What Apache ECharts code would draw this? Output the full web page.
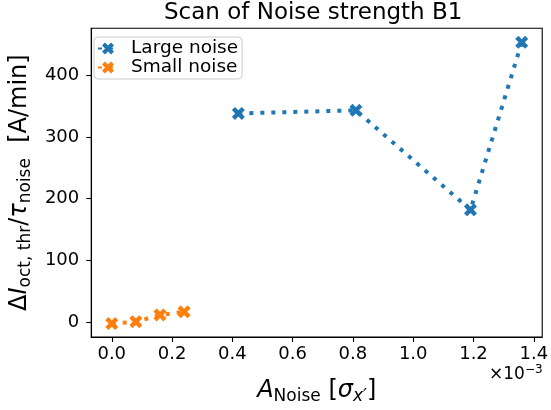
<!DOCTYPE html>
<html><head><meta charset="utf-8">
<script src="https://cdn.jsdelivr.net/npm/echarts@6/dist/echarts.min.js"></script>
<style>html,body{margin:0;padding:0;background:#fff}#c{width:551px;height:410px}</style>
</head><body><div id="c"></div>
<script>
const largeX = [0.42, 0.81, 1.19, 1.36];
const largeY = [338, 343, 182, 453];
const smallX = [0.0, 0.08, 0.16, 0.24];
const smallY = [-2, 1, 12, 17];
const xTicks = [0.0, 0.2, 0.4, 0.6, 0.8, 1.0, 1.2, 1.4];
const yTicks = [0, 100, 200, 300, 400];
const seriesNames = ['Large noise', 'Small noise'];
const colors = ['#1f77b4', '#ff7f0e'];

const X = 'path://M0,2.4 L2.4,0 L5,2.6 L7.6,0 L10,2.4 L7.4,5 L10,7.6 L7.6,10 L5,7.4 L2.4,10 L0,7.6 L2.6,5 Z';
const F = 'DejaVu Sans';
const chart = echarts.init(document.getElementById('c'), null, {renderer: 'canvas'});
const mk = (xs, ys) => xs.map((x, i) => [x, ys[i]]);
chart.setOption({
  animation: false,
  title: {text: 'Scan of Noise strength B1', left: 164, top: 2, padding: 0,
    textStyle: {fontFamily: F, fontSize: 23, fontWeight: 'normal', color: '#000'}},
  grid: {left: 86.5, right: 5.7, top: 28.3, bottom: 71, show: true, borderColor: '#000', borderWidth: 1.1, backgroundColor: 'transparent'},
  legend: {
    orient: 'vertical', left: 94, top: 37, data: seriesNames,
    itemWidth: 20, itemHeight: 15, itemGap: 0,
    backgroundColor: 'rgba(255,255,255,0.8)', borderColor: '#ccc', borderWidth: 1, borderRadius: 4,
    padding: [2, 4, 2, 3],
    textStyle: {fontFamily: F, fontSize: 18.5, lineHeight: 17, color: '#000', padding: [0,0,0,8]}
  },
  xAxis: {
    type: 'value', min: -0.068, max: 1.428,
    splitLine: {show: false},
    axisLine: {show: true, onZero: false, lineStyle: {color: '#000', width: 1.1}},
    axisTick: {show: true, length: 5, customValues: xTicks, lineStyle: {color: '#000', width: 1.1}},
    axisLabel: {customValues: xTicks, formatter: v => v.toFixed(1), fontFamily: F, fontSize: 18, color: '#000', margin: 8},
    name: '{i|A}{s|Noise}{n| [}{i|σ}{si|x′}{n|]}', nameLocation: 'middle', nameGap: 40,
    nameTextStyle: {rich: {
      i: {fontFamily: F, fontStyle: 'italic', fontSize: 24, color: '#000'},
      n: {fontFamily: F, fontSize: 24, color: '#000'},
      s: {fontFamily: F, fontSize: 17, color: '#000', padding: [11,0,0,0]},
      si: {fontFamily: F, fontStyle: 'italic', fontSize: 17, color: '#000', padding: [11,0,0,0]}
    }}
  },
  yAxis: {
    type: 'value', min: -23.7, max: 475.7,
    splitLine: {show: false},
    axisLine: {show: true, onZero: false, lineStyle: {color: '#000', width: 1.1}},
    axisTick: {show: true, length: 5, customValues: yTicks, lineStyle: {color: '#000', width: 1.1}},
    axisLabel: {customValues: yTicks, fontFamily: F, fontSize: 18, color: '#000', margin: 12},
    name: '{n|Δ}{i|I}{s|oct, thr}{n|/}{i|τ}{s|noise}{n|  [A/min]}', nameLocation: 'middle', nameGap: 55, nameRotate: 90,
    nameTextStyle: {rich: {
      i: {fontFamily: F, fontStyle: 'italic', fontSize: 24, color: '#000'},
      n: {fontFamily: F, fontSize: 24, color: '#000'},
      s: {fontFamily: F, fontSize: 17, color: '#000', padding: [11,0,0,0]}
    }}
  },
  graphic: [{type: 'text', left: 489, top: 364, style: {
    text: '×10{e|−3}', fontFamily: F, fontSize: 17, fill: '#000',
    rich: {e: {fontFamily: F, fontSize: 12, fill: '#000', padding: [0,0,9,0]}}
  }}],
  series: [
    {name: seriesNames[0], type: 'line', data: mk(largeX, largeY), symbol: X, symbolSize: 13,
     itemStyle: {color: colors[0]}, lineStyle: {color: colors[0], width: 4, type: [4, 7], cap: 'butt'}},
    {name: seriesNames[1], type: 'line', data: mk(smallX, smallY), symbol: X, symbolSize: 13,
     itemStyle: {color: colors[1]}, lineStyle: {color: colors[1], width: 4, type: [4, 7], cap: 'butt'}}
  ]
});
</script></body></html>
